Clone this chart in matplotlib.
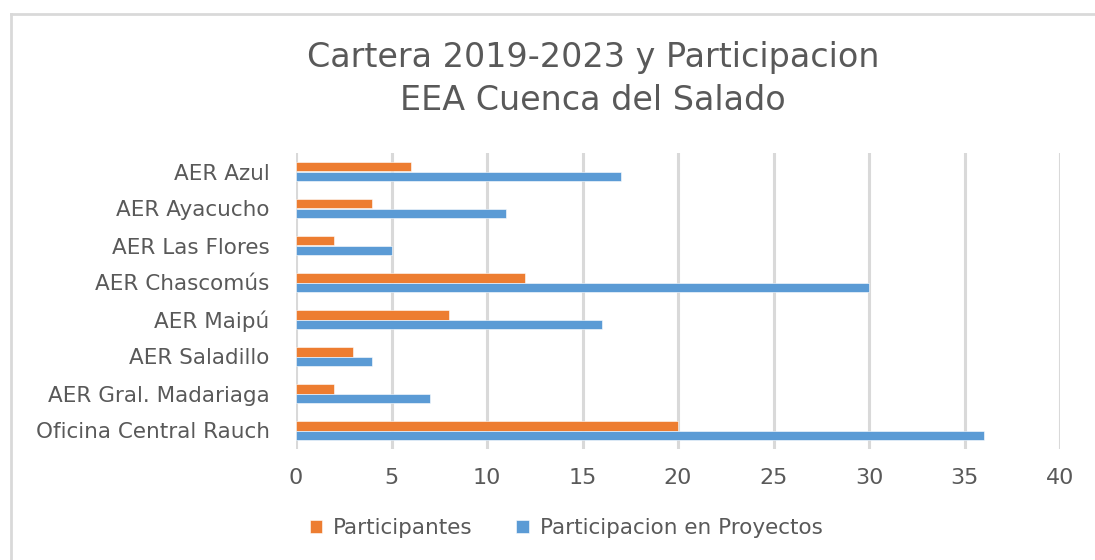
import matplotlib
matplotlib.use("Agg")
import matplotlib.pyplot as plt
from matplotlib.lines import Line2D
import numpy as np

categories = ["AER Azul", "AER Ayacucho", "AER Las Flores", "AER Chascomús",
              "AER Maipú", "AER Saladillo", "AER Gral. Madariaga", "Oficina Central Rauch"]
participantes = [6, 4, 2, 12, 8, 3, 2, 20]
proyectos = [17, 11, 5, 30, 16, 4, 7, 36]
xticks = [0, 5, 10, 15, 20, 25, 30, 35, 40]
series_names = ["Participantes", "Participacion en Proyectos"]

ORANGE = "#ED7D31"
BLUE = "#5B9BD5"
TEXT = "#595959"
GRID = "#D9D9D9"

plt.rcParams['font.family'] = ['DejaVu Sans']

fig = plt.figure(figsize=(10.95, 5.60), dpi=100)
ax = fig.add_axes([296/1095, 1-449/560, (1060-296)/1095, (449-153)/560])

y = np.arange(len(categories))
h = 0.262
ax.barh(y - h/2, participantes, height=h, color=ORANGE, edgecolor="white", linewidth=0.4,
        label=series_names[0], zorder=3)
ax.barh(y + h/2, proyectos, height=h, color=BLUE, edgecolor="white", linewidth=0.4,
        label=series_names[1], zorder=3)

ax.set_ylim(len(categories) - 0.5, -0.5)
ax.set_xlim(0, 40)
ax.set_xticks(xticks)
ax.set_xticklabels([str(t) for t in xticks], fontsize=16, color=TEXT)
ax.set_yticks(y)
ax.set_yticklabels(categories, fontsize=15.5, color=TEXT)
ax.tick_params(axis='both', length=0)
ax.tick_params(axis='y', pad=19)
ax.tick_params(axis='x', pad=14)
ax.grid(axis='x', color=GRID, linewidth=2.2, zorder=0)
for s in ax.spines.values():
    s.set_visible(False)

fig.text(593/1095, 1-58/560, "Cartera 2019-2023 y Participacion", ha='center', va='center',
         fontsize=24, color=TEXT)
fig.text(593/1095, 1-100/560, "EEA Cuenca del Salado", ha='center', va='center',
         fontsize=24, color=TEXT)

leg = fig.legend(loc='center', bbox_to_anchor=(566/1095, 1-528/560), ncol=2, frameon=False,
                 fontsize=15.5, labelcolor=TEXT, handlelength=0.6, handleheight=0.6,
                 handletextpad=0.5, columnspacing=2.0)

# outer chart border (top and left visible)
fig.add_artist(Line2D([11/1095, 11/1095], [0, 1-14/560], transform=fig.transFigure,
                      color=GRID, linewidth=2))
fig.add_artist(Line2D([11/1095, 1], [1-14/560, 1-14/560], transform=fig.transFigure,
                      color=GRID, linewidth=2))

fig.savefig("out.png", dpi=100)
